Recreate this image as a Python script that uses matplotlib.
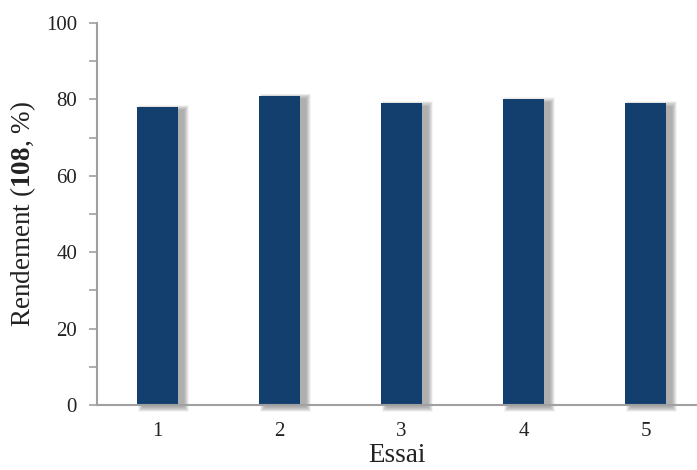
import numpy as np
import matplotlib.pyplot as plt
from matplotlib.ticker import MultipleLocator

plt.rcParams['font.family'] = 'Liberation Serif'
plt.rcParams['mathtext.fontset'] = 'custom'
plt.rcParams['mathtext.rm'] = 'Liberation Serif'
plt.rcParams['mathtext.bf'] = 'Liberation Serif:bold'

essais = [1, 2, 3, 4, 5]
rendement = [78, 81, 79, 80, 79]

fig = plt.figure(figsize=(6.97, 4.70), dpi=100)
ax = fig.add_axes([0.1385, 0.1383, 0.8616, 0.8128])

x = np.array(essais, dtype=float)
y = np.array(rendement, dtype=float)
w = 0.336
px_x = 1 / 122.0   # 1 pixel en unités x
px_y = 100 / 382.0  # 1 pixel en unités y

# ombre floue (couches grises)
for k in range(10):
    spx = k * 0.55
    top = y - 3 * px_y + spx * px_y
    bot = -2 * px_y - spx * px_y
    ax.bar(x + 6 * px_x, top - bot, w + 2 * spx * px_x, bottom=bot,
           color='#505050', alpha=0.055, linewidth=0, zorder=1, clip_on=False)

ax.bar(x, y, w, color='#133f6f', linewidth=0, zorder=3)

ax.set_xlim(0.5, 5.422)
ax.set_ylim(0, 100)
ax.yaxis.set_major_locator(MultipleLocator(20))
ax.yaxis.set_minor_locator(MultipleLocator(10))
ax.set_xticks(essais)

for s in ['top', 'right']:
    ax.spines[s].set_visible(False)
for s in ['left', 'bottom']:
    ax.spines[s].set_color('#a0a0a0')
    ax.spines[s].set_linewidth(1.5)
    ax.spines[s].set_zorder(4)

ax.tick_params(axis='y', which='both', direction='out', length=6, width=1.2,
               color='#a0a0a0', labelsize=15, labelcolor='#222222', pad=8)
ax.tick_params(axis='x', length=0, labelsize=15, labelcolor='#222222', pad=12)

ax.set_xlabel('Essai', fontsize=19.5, color='#222222', labelpad=2)
ax.set_ylabel(r'Rendement ($\mathbf{108}$, %)', fontsize=19.5, color='#222222', labelpad=6)

fig.savefig('out.png', dpi=100)
